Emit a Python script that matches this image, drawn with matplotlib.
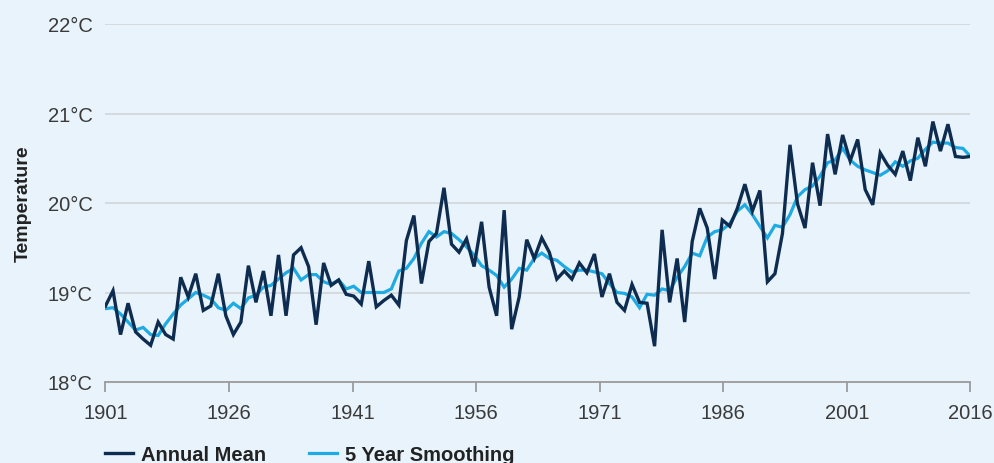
import numpy as np
import matplotlib
matplotlib.use("Agg")
import matplotlib.pyplot as plt

plt.rcParams['font.family'] = ['Liberation Sans', 'DejaVu Sans']

# annual mean temperature, 1901-2016
annual_mean = [
    18.85, 19.02, 18.53, 18.88, 18.56, 18.48, 18.41, 18.67, 18.53, 18.48,
    19.17, 18.95, 19.21, 18.80, 18.85, 19.21, 18.74, 18.53, 18.67, 19.30,
    18.89, 19.24, 18.74, 19.42, 18.74, 19.42, 19.50, 19.29, 18.64, 19.33,
    19.08, 19.14, 18.98, 18.96, 18.87, 19.35, 18.84, 18.91, 18.97, 18.86,
    19.58, 19.86, 19.10, 19.57, 19.66, 20.17, 19.54, 19.45, 19.60, 19.29,
    19.79, 19.06, 18.74, 19.92, 18.59, 18.95, 19.59, 19.38, 19.61, 19.45,
    19.15, 19.24, 19.15, 19.33, 19.22, 19.43, 18.95, 19.21, 18.89, 18.80,
    19.09, 18.89, 18.88, 18.40, 19.70, 18.89, 19.38, 18.67, 19.57, 19.94,
    19.72, 19.15, 19.81, 19.74, 19.94, 20.21, 19.91, 20.14, 19.12, 19.21,
    19.66, 20.65, 19.99, 19.72, 20.45, 19.97, 20.77, 20.32, 20.76, 20.47,
    20.71, 20.15, 19.98, 20.56, 20.42, 20.32, 20.58, 20.25, 20.73, 20.41,
    20.91, 20.58, 20.88, 20.52, 20.51, 20.52,
]

smoothing = [
    18.82, 18.83, 18.76, 18.67, 18.58, 18.61, 18.53, 18.52, 18.65, 18.76,
    18.86, 18.93, 19.00, 18.97, 18.93, 18.83, 18.80, 18.88, 18.82, 18.94,
    18.97, 19.06, 19.08, 19.15, 19.22, 19.27, 19.14, 19.20, 19.20, 19.12,
    19.09, 19.14, 19.04, 19.07, 19.00, 19.00, 19.00, 19.00, 19.04, 19.24,
    19.27, 19.38, 19.55, 19.68, 19.62, 19.68, 19.66, 19.59, 19.51, 19.42,
    19.30, 19.25, 19.19, 19.06, 19.15, 19.27, 19.25, 19.38, 19.44, 19.38,
    19.36, 19.29, 19.23, 19.25, 19.25, 19.23, 19.21, 19.10, 19.00, 18.99,
    18.95, 18.83, 18.98, 18.97, 19.04, 19.02, 19.17, 19.29, 19.44, 19.41,
    19.62, 19.68, 19.70, 19.77, 19.91, 19.98, 19.87, 19.74, 19.61, 19.75,
    19.73, 19.87, 20.07, 20.15, 20.19, 20.30, 20.45, 20.48, 20.61, 20.48,
    20.41, 20.37, 20.34, 20.31, 20.36, 20.46, 20.41, 20.47, 20.50, 20.60,
    20.68, 20.67, 20.67, 20.62, 20.61, 20.52,
]

years = list(range(1901, 2017))
tick_labels = ["1901", "1926", "1941", "1956", "1971", "1986", "2001", "2016"]
y_ticks = [18, 19, 20, 21, 22]

bg = "#e8f3fb"
dark = "#0e2c50"
light = "#1eaae2"

fig = plt.figure(figsize=(9.95, 4.64), dpi=100, facecolor=bg)
ax = fig.add_axes([105.5 / 995, 81 / 464, 865 / 995, 358 / 464], facecolor=bg)

idx = np.arange(len(years))
ax.plot(idx, smoothing, color=light, lw=2.3, label="5 Year Smoothing", zorder=3,
        solid_joinstyle='miter')
ax.plot(idx, annual_mean, color=dark, lw=2.4, label="Annual Mean", zorder=4,
        solid_joinstyle='miter')

ax.set_xlim(0, len(years) - 1)
ax.set_ylim(18, 22)
ax.set_yticks(y_ticks)
ax.set_yticklabels([f"{t}°C" for t in y_ticks])
ax.set_xticks(np.linspace(0, len(years) - 1, len(tick_labels)))
ax.set_xticklabels(tick_labels)

ax.grid(axis='y', color="#d4d8db", lw=1.3)
ax.set_axisbelow(True)
for s in ["top", "right", "left"]:
    ax.spines[s].set_visible(False)
ax.spines["bottom"].set_color("#9b9b9b")
ax.spines["bottom"].set_linewidth(1.3)
ax.tick_params(axis='y', length=0, pad=9, labelsize=14.5, labelcolor="#3a3a3a")
ax.tick_params(axis='x', length=7, width=1.3, color="#9b9b9b", pad=8,
               labelsize=14.5, labelcolor="#3a3a3a")

ax.set_ylabel("Temperature", fontsize=14, fontweight='bold', color="#222222",
              labelpad=12)

h, l = ax.get_legend_handles_labels()
fig.legend(h[::-1], l[::-1], loc='center left', bbox_to_anchor=(105 / 995, 1 - 456 / 464),
           ncol=2, frameon=False, handlelength=1.4, handletextpad=0.4,
           columnspacing=2.1, borderpad=0, borderaxespad=0,
           prop={'weight': 'bold', 'size': 14.5}, labelcolor="#222222")

fig.savefig("out.png", dpi=100, facecolor=bg)
